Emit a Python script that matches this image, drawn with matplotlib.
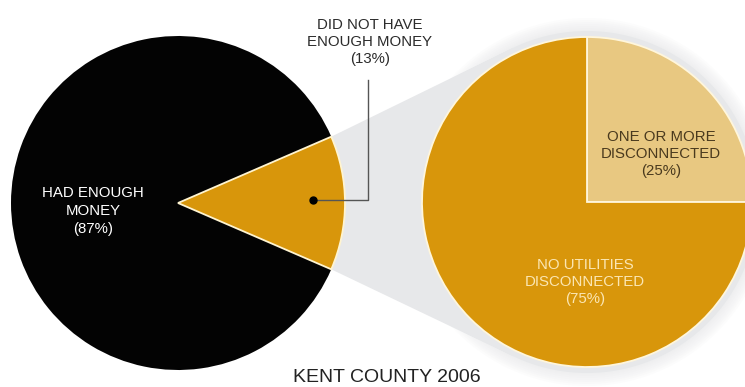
import numpy as np
import matplotlib.pyplot as plt
from matplotlib.patches import Circle, Polygon

plt.rcParams['font.family'] = ['Liberation Sans', 'DejaVu Sans']

# money situation of households, and utility disconnections among those short of money
money_labels = ['DID NOT HAVE\nENOUGH MONEY', 'HAD ENOUGH\nMONEY']
money_share = [13, 87]
util_labels = ['ONE OR MORE\nDISCONNECTED', 'NO UTILITIES\nDISCONNECTED']
util_share = [25, 75]
title = 'KENT COUNTY 2006'

BLACK = '#030303'
GOLD = '#d8960b'
TAN = '#e8c881'
HALO = '#e7e8ea'

W, H = 745, 387
fig = plt.figure(figsize=(W / 100, H / 100), dpi=100)
ax = fig.add_axes([0, 0, 1, 1])

left_c, left_r = (178, 184), 167
right_c, right_r = (587, 185), 165

# left pie: the short-of-money slice is centred on the right-hand side
start = -money_share[0] / sum(money_share) * 360 / 2
wedges, _ = ax.pie(money_share, colors=[GOLD, BLACK], startangle=start,
                   center=left_c, radius=left_r, frame=True,
                   wedgeprops=dict(edgecolor='#fff4d0', linewidth=1.3))
wedges[1].set_edgecolor('none')
wedges[0].set_zorder(wedges[1].get_zorder() + 1)

# right pie: breakdown of the gold slice
ax.pie(util_share, colors=[TAN, GOLD], startangle=0, center=right_c,
       radius=right_r, frame=True,
       wedgeprops=dict(edgecolor='#fff6dc', linewidth=1.3))

# grey band linking the slice to the breakdown pie
half = np.deg2rad(money_share[0] / sum(money_share) * 360 / 2)
p_top = np.array([left_c[0] + left_r * np.cos(half), left_c[1] + left_r * np.sin(half)])
p_bot = np.array([left_c[0] + left_r * np.cos(half), left_c[1] - left_r * np.sin(half)])
band_r = 171


def tangent(p, sign):
    v = np.array(right_c) - p
    d = np.hypot(*v)
    th = np.arctan2(v[1], v[0]) + sign * np.arcsin(band_r / d)
    L = np.sqrt(d ** 2 - band_r ** 2)
    return p + L * np.array([np.cos(th), np.sin(th)])


t_top, t_bot = tangent(p_top, 1), tangent(p_bot, -1)
ax.add_patch(Polygon([p_top, t_top, right_c, t_bot, p_bot], closed=True,
                     facecolor=HALO, edgecolor='none', zorder=0))
# faint halo round the right pie
for rr in np.arange(184, band_r, -2):
    ax.add_patch(Circle(right_c, rr, facecolor=HALO, edgecolor='none',
                        alpha=0.12, zorder=0))
ax.add_patch(Circle(right_c, band_r, facecolor=HALO, edgecolor='none', zorder=0))

# slice labels
fs = 10.8
ax.text(93, 176, f'{money_labels[1]}\n({money_share[1]}%)', color='white',
        fontsize=fs, ha='center', va='center', linespacing=1.4, zorder=5)
ax.text(661, 233, f'{util_labels[0]}\n({util_share[0]}%)', color='#4a3a1e',
        fontsize=fs, ha='center', va='center', linespacing=1.3, zorder=5)
ax.text(585, 105, f'{util_labels[1]}\n({util_share[1]}%)', color='#fbe6b3',
        fontsize=fs, ha='center', va='center', linespacing=1.3, zorder=5)

# callout for the gold slice
ax.text(370, 345, f'{money_labels[0]}\n({money_share[0]}%)', color='#2b2b2b',
        fontsize=fs, ha='center', va='center', linespacing=1.3, zorder=5)
ax.plot([313, 368, 368], [187, 187, 307], color='#555555', lw=1.0, zorder=4)
ax.plot([313], [187], 'o', color='black', ms=5, zorder=6)

ax.text(387, 9, title, color='#222222', fontsize=14, ha='center', va='center',
        zorder=5)

ax.set_xlim(0, W)
ax.set_ylim(0, H)
ax.set_aspect('auto')
ax.axis('off')

fig.savefig('out.png', dpi=100, facecolor='white')
